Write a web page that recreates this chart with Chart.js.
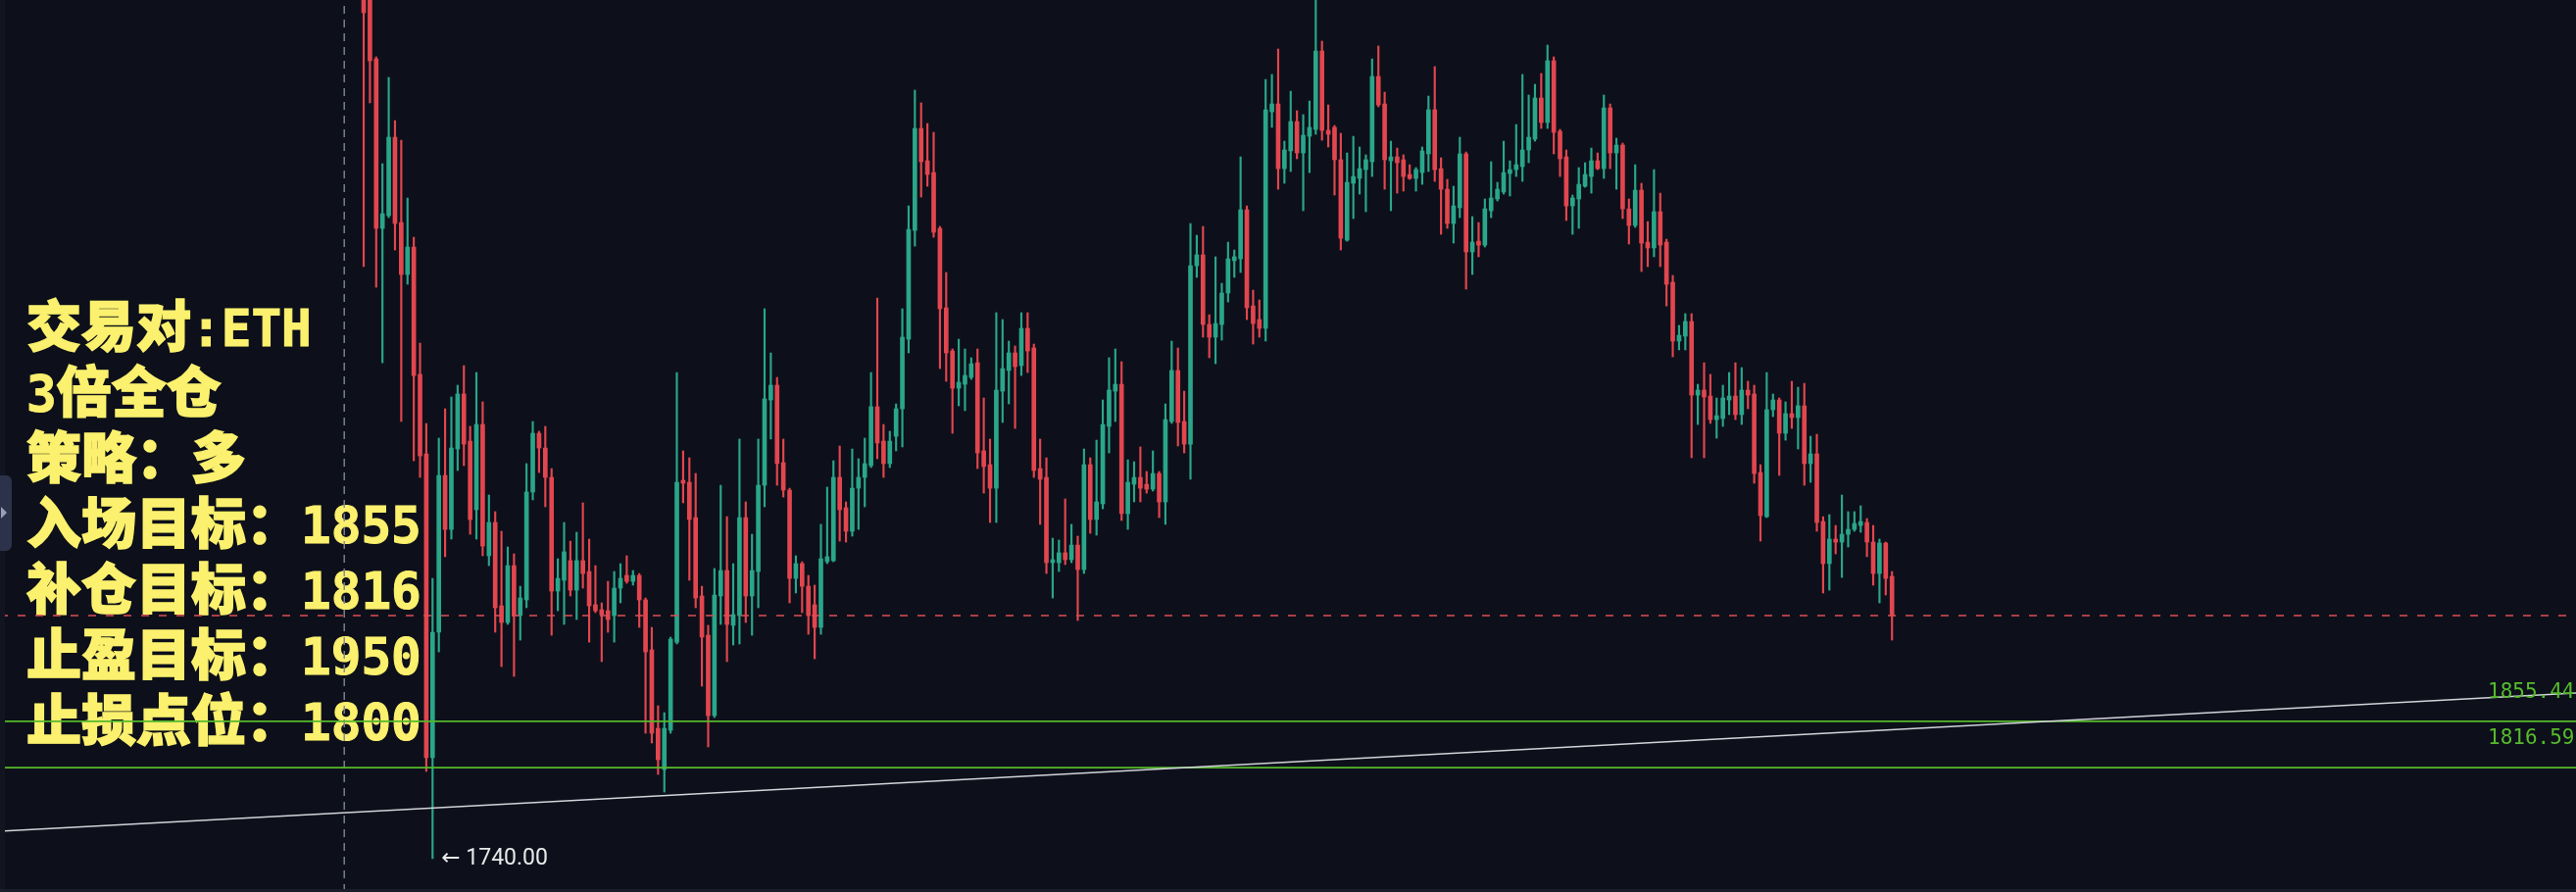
<!DOCTYPE html>
<html>
<head>
<meta charset="utf-8">
<script src="https://cdn.jsdelivr.net/npm/chart.js@4.4.1/dist/chart.umd.min.js"></script>
<style>
html, body { margin: 0; padding: 0; background: #0d101a; overflow: hidden; }
#wrap { position: relative; width: 2628px; height: 910px; }
#notes { position: absolute; left: 27px; top: 295px; color: #fcf16e; font-family: "Noto Sans CJK SC"; font-weight: 900; font-size: 56px; z-index: 0; -webkit-text-stroke: 1.4px #fcf16e; }
#notes div { height: 67px; line-height: 67px; white-space: nowrap; }
#notes .m { font-family: "DejaVu Sans Mono"; font-weight: bold; font-size: 51px; -webkit-text-stroke: 1px #fcf16e; }
canvas { position: absolute; left: 0; top: 0; z-index: 1; }
#edge { position: absolute; left: 0; top: 0; width: 5px; height: 910px; background: #121520; z-index: 2; }
#tab { position: absolute; left: 0; top: 485px; width: 12px; height: 77px; background: #2c3249; border-radius: 0 6px 6px 0; z-index: 3; }
#tab i { position: absolute; left: 1px; top: 32px; width: 0; height: 0; border-top: 6px solid transparent; border-bottom: 6px solid transparent; border-left: 6px solid #9aa0b5; }
#bottom { position: absolute; left: 0; bottom: 0; width: 2628px; height: 3px; background: #1a1e2a; z-index: 2; }
</style>
</head>
<body>
<div id="wrap">
  <div id="notes">
    <div>交易对<span class="m">:ETH</span></div>
    <div><span class="m">3</span>倍全仓</div>
    <div>策略：多</div>
    <div>入场目标：<span class="m">1855</span></div>
    <div>补仓目标：<span class="m">1816</span></div>
    <div>止盈目标：<span class="m">1950</span></div>
    <div>止损点位：<span class="m">1800</span></div>
  </div>
  <canvas id="chart" width="2628" height="910"></canvas>
  <div id="edge"></div>
  <div id="tab"><i></i></div>
  <div id="bottom"></div>
</div>
<script>
// ETH candles (oldest first)
var opens = [
  2470.2, 2462.0, 2412.5, 2270.0, 2280.7, 2346.6, 2274.9, 2231.2, 2254.3, 2147.2,
  2080.4, 1824.9, 1930.4, 2062.3, 2016.9, 2084.5, 2130.7, 2091.1, 2033.4, 2105.1,
  1994.7, 2022.7, 1952.6, 1938.6, 1986.4, 1944.4, 1957.6, 2048.3, 2097.7, 2085.3,
  2060.6, 1965.0, 1974.1, 1990.6, 1965.8, 1990.6, 1981.5, 1953.5, 1949.3, 1948.5,
  1944.4, 1967.5, 1978.2, 1973.2, 1978.2, 1957.6, 1915.6, 1849.6, 1815.0, 1848.0,
  1922.1, 2058.1, 2056.5, 2026.8, 1960.9, 1927.9, 1860.3, 1960.9, 1982.3, 1936.2,
  1944.4, 2026.8, 1960.9, 1981.5, 2054.0, 2125.7, 2138.1, 2073.0, 2049.9, 1975.7,
  1988.1, 1969.1, 1953.5, 1934.5, 1989.7, 1990.6, 2060.6, 2035.1, 2015.3, 2051.5,
  2060.6, 2070.5, 2120.0, 2091.1, 2072.2, 2095.2, 2118.3, 2176.8, 2268.3, 2354.0,
  2326.8, 2316.9, 2270.0, 2203.2, 2166.9, 2135.6, 2138.9, 2144.7, 2157.0, 2082.9,
  2071.3, 2051.5, 2133.1, 2150.5, 2165.3, 2154.6, 2185.9, 2169.4, 2068.0, 2060.6,
  1988.9, 1988.9, 1997.2, 1991.4, 2003.7, 1983.1, 2071.3, 2025.2, 2038.4, 2103.5,
  2133.1, 2138.9, 2030.1, 2054.8, 2060.6, 2054.8, 2050.7, 2063.9, 2040.0, 2107.6,
  2150.5, 2107.6, 2088.6, 2238.6, 2247.7, 2189.2, 2178.5, 2189.2, 2215.6, 2242.8,
  2244.4, 2285.6, 2204.8, 2193.3, 2185.9, 2368.0, 2374.6, 2320.2, 2335.1, 2359.8,
  2333.4, 2347.4, 2353.2, 2419.1, 2352.4, 2354.9, 2327.7, 2260.1, 2307.9, 2312.0,
  2319.4, 2326.0, 2397.7, 2374.6, 2326.8, 2330.1, 2327.7, 2315.3, 2312.0, 2316.9,
  2332.6, 2369.7, 2320.2, 2302.9, 2274.1, 2287.3, 2332.6, 2250.2, 2259.2, 2255.9,
  2284.8, 2294.7, 2300.5, 2316.1, 2319.4, 2321.9, 2335.9, 2345.0, 2379.6, 2359.0,
  2410.9, 2351.6, 2330.1, 2288.9, 2294.7, 2305.4, 2313.6, 2326.8, 2320.2, 2371.3,
  2333.4, 2340.0, 2286.4, 2272.4, 2302.1, 2258.4, 2253.5, 2284.0, 2258.4, 2224.6,
  2175.2, 2179.3, 2191.7, 2129.8, 2134.0, 2129.0, 2109.2, 2110.1, 2125.7, 2129.0,
  2113.4, 2134.0, 2130.7, 2064.7, 2027.6, 2117.5, 2125.7, 2097.7, 2114.2, 2110.9,
  2120.8, 2072.2, 2080.4, 2023.5, 1988.1, 2008.7, 2006.2, 2012.8, 2016.9, 2020.2,
  2022.7, 2006.2, 1979.8, 2005.4, 1977.4
];
var highs = [
  2482.6, 2468.6, 2414.2, 2324.4, 2396.9, 2360.6, 2344.1, 2295.5, 2262.5, 2173.5,
  2105.9, 1975.7, 2093.6, 2118.3, 2128.2, 2138.1, 2154.6, 2103.5, 2148.8, 2124.1,
  2045.8, 2031.8, 2015.3, 2002.1, 1996.3, 1969.1, 2072.2, 2107.6, 2099.4, 2103.5,
  2068.0, 1992.2, 2022.7, 2007.0, 2014.5, 2039.2, 2008.7, 1986.4, 1955.1, 1973.2,
  1981.5, 1988.1, 1994.7, 1982.3, 1979.8, 1959.2, 1934.5, 1868.6, 1862.8, 1926.3,
  2148.8, 2082.9, 2077.1, 2063.9, 1969.1, 1936.2, 1984.0, 2054.0, 2027.6, 1988.1,
  2092.8, 2040.0, 2012.8, 2092.8, 2202.4, 2165.3, 2144.7, 2092.8, 2051.5, 1994.7,
  1989.7, 1978.2, 1970.0, 2021.1, 2052.4, 2074.6, 2087.0, 2040.0, 2084.5, 2076.3,
  2093.6, 2148.8, 2211.4, 2105.1, 2099.4, 2122.4, 2202.4, 2288.9, 2386.2, 2375.5,
  2358.2, 2350.7, 2271.6, 2232.9, 2168.6, 2176.8, 2168.6, 2161.2, 2168.6, 2127.4,
  2092.8, 2199.1, 2193.3, 2175.2, 2171.1, 2199.1, 2199.1, 2172.7, 2092.8, 2077.1,
  2009.5, 2007.9, 2042.5, 2021.1, 2011.2, 2084.5, 2077.1, 2091.9, 2125.7, 2161.2,
  2168.6, 2157.9, 2075.4, 2073.8, 2086.2, 2065.6, 2082.9, 2065.6, 2122.4, 2175.2,
  2169.4, 2133.1, 2274.1, 2264.2, 2271.6, 2197.4, 2246.1, 2223.8, 2258.4, 2251.8,
  2330.1, 2288.9, 2218.0, 2209.8, 2395.2, 2399.4, 2420.8, 2343.3, 2385.3, 2368.9,
  2365.6, 2377.1, 2466.1, 2427.4, 2373.8, 2356.5, 2349.9, 2333.4, 2347.4, 2338.4,
  2331.8, 2412.5, 2423.3, 2384.5, 2343.3, 2337.5, 2331.8, 2323.5, 2321.1, 2338.4,
  2381.2, 2406.0, 2329.3, 2311.2, 2305.4, 2346.6, 2334.2, 2279.9, 2274.9, 2294.7,
  2326.0, 2308.7, 2343.3, 2326.8, 2357.3, 2399.4, 2382.1, 2391.1, 2400.2, 2424.1,
  2414.2, 2353.2, 2335.9, 2298.0, 2321.1, 2325.2, 2337.5, 2333.4, 2382.1, 2374.6,
  2345.8, 2341.7, 2294.7, 2323.5, 2307.9, 2275.7, 2319.4, 2299.6, 2260.9, 2230.4,
  2188.4, 2198.3, 2198.3, 2138.9, 2157.0, 2147.2, 2127.4, 2138.1, 2148.8, 2157.0,
  2152.9, 2141.4, 2138.1, 2071.3, 2148.8, 2130.7, 2127.4, 2124.1, 2141.4, 2136.4,
  2139.7, 2095.2, 2096.9, 2027.6, 2029.3, 2020.2, 2045.8, 2031.8, 2031.8, 2036.7,
  2026.0, 2020.2, 2008.7, 2006.2, 1981.5
];
var lows = [
  2237.8, 2375.5, 2220.5, 2157.0, 2279.0, 2251.8, 2107.6, 2223.0, 2074.6, 2060.6,
  1813.4, 1740.0, 1913.9, 1993.9, 2008.7, 2066.4, 2070.5, 2012.8, 2008.7, 1994.7,
  1986.4, 1930.4, 1901.5, 1937.0, 1893.3, 1923.8, 1951.0, 2041.7, 2064.7, 2035.9,
  1927.9, 1948.5, 1937.0, 1960.9, 1941.1, 1967.5, 1922.1, 1946.9, 1905.7, 1930.4,
  1922.1, 1955.1, 1971.6, 1970.0, 1934.5, 1845.5, 1837.3, 1810.9, 1796.0, 1845.5,
  1920.5, 2039.2, 1974.1, 1951.0, 1885.1, 1834.0, 1858.7, 1937.0, 1905.7, 1919.7,
  1920.5, 1938.6, 1927.9, 1951.0, 2035.9, 2092.8, 2054.0, 2044.1, 1955.1, 1963.4,
  1946.9, 1928.7, 1908.1, 1928.7, 1988.1, 1989.7, 2007.0, 2006.2, 2011.2, 2016.9,
  2035.9, 2068.9, 2076.3, 2060.6, 2068.9, 2082.9, 2086.2, 2165.3, 2255.1, 2296.3,
  2305.4, 2262.5, 2152.1, 2141.4, 2097.7, 2120.8, 2116.7, 2143.0, 2068.0, 2047.4,
  2022.7, 2022.7, 2106.8, 2122.4, 2101.8, 2146.3, 2148.8, 2060.6, 2021.1, 1979.8,
  1959.2, 1981.5, 1987.3, 1988.9, 1940.3, 1979.8, 2013.6, 2012.0, 2034.2, 2081.2,
  2107.6, 2024.4, 2016.9, 2040.0, 2040.0, 2047.4, 2049.1, 2026.8, 2021.1, 2106.0,
  2087.0, 2081.2, 2059.0, 2228.8, 2178.5, 2161.2, 2156.2, 2176.0, 2208.1, 2228.8,
  2232.9, 2193.3, 2172.7, 2178.5, 2175.2, 2354.9, 2302.9, 2307.9, 2317.8, 2328.5,
  2284.8, 2316.9, 2349.1, 2344.1, 2338.4, 2298.0, 2251.8, 2259.2, 2278.2, 2298.8,
  2284.0, 2313.6, 2372.2, 2302.9, 2284.8, 2299.6, 2301.3, 2311.2, 2301.3, 2307.0,
  2317.8, 2309.5, 2265.0, 2270.0, 2257.6, 2279.0, 2218.9, 2231.2, 2246.1, 2254.3,
  2279.0, 2293.0, 2298.8, 2297.2, 2313.6, 2309.5, 2325.2, 2343.3, 2354.0, 2354.0,
  2332.6, 2313.6, 2276.6, 2265.0, 2270.0, 2304.6, 2299.6, 2319.4, 2312.0, 2320.2,
  2302.9, 2278.2, 2256.8, 2270.8, 2233.7, 2237.8, 2246.1, 2237.8, 2204.8, 2162.0,
  2167.8, 2167.8, 2077.1, 2105.1, 2077.1, 2106.0, 2093.6, 2103.5, 2113.4, 2109.2,
  2105.1, 2118.3, 2055.7, 2007.0, 2026.8, 2111.7, 2062.3, 2091.9, 2101.8, 2084.5,
  2054.0, 2056.5, 2015.3, 1963.4, 1965.8, 1996.3, 1976.5, 2002.1, 2015.3, 2014.5,
  1993.9, 1970.0, 1955.1, 1961.7, 1923.8
];
var closes = [
  2451.3, 2410.9, 2270.0, 2282.3, 2346.6, 2274.1, 2231.2, 2254.3, 2146.3, 2078.7,
  1824.9, 1930.4, 2062.3, 2016.9, 2085.3, 2130.7, 2088.6, 2025.2, 2105.1, 2002.9,
  2022.7, 1951.0, 1938.6, 1986.4, 1944.4, 1959.2, 2048.3, 2097.7, 2085.3, 2060.6,
  1965.0, 1975.7, 1998.0, 1965.8, 1990.6, 1979.8, 1952.6, 1948.5, 1945.2, 1941.1,
  1967.5, 1975.7, 1973.2, 1978.2, 1957.6, 1913.9, 1845.5, 1823.2, 1849.6, 1924.6,
  2056.5, 2055.7, 2025.2, 1959.2, 1926.3, 1860.3, 1961.7, 1982.3, 1937.0, 1945.2,
  2026.8, 1960.9, 1982.3, 2054.0, 2126.6, 2138.1, 2072.2, 2049.9, 1975.7, 1988.1,
  1969.1, 1944.4, 1934.5, 1992.2, 1993.9, 2060.6, 2033.4, 2015.3, 2051.5, 2060.6,
  2072.2, 2120.0, 2089.5, 2072.2, 2091.1, 2118.3, 2178.5, 2269.1, 2354.0, 2326.0,
  2315.3, 2266.7, 2202.4, 2165.3, 2135.6, 2140.6, 2146.3, 2156.2, 2081.2, 2069.7,
  2051.5, 2134.0, 2152.1, 2165.3, 2153.7, 2185.9, 2166.9, 2066.4, 2059.0, 1988.9,
  1991.4, 1997.2, 1991.4, 2003.7, 1983.1, 2071.3, 2025.2, 2040.0, 2105.1, 2134.0,
  2138.9, 2030.1, 2056.5, 2060.6, 2051.5, 2050.7, 2063.9, 2040.0, 2109.2, 2150.5,
  2106.8, 2088.6, 2238.6, 2247.7, 2189.2, 2178.5, 2190.0, 2215.6, 2244.4, 2246.1,
  2285.6, 2203.2, 2190.0, 2185.9, 2369.7, 2374.6, 2320.2, 2335.9, 2359.8, 2333.4,
  2348.3, 2354.9, 2419.1, 2352.4, 2349.1, 2327.7, 2261.7, 2308.7, 2313.6, 2320.2,
  2327.7, 2397.7, 2373.8, 2327.7, 2330.1, 2325.2, 2313.6, 2312.0, 2319.4, 2335.1,
  2369.7, 2319.4, 2302.9, 2274.1, 2288.9, 2332.6, 2250.2, 2258.4, 2255.9, 2286.4,
  2295.5, 2302.9, 2316.9, 2319.4, 2323.5, 2335.9, 2346.6, 2379.6, 2359.0, 2410.9,
  2350.7, 2328.5, 2288.9, 2295.5, 2307.0, 2315.3, 2326.8, 2320.2, 2371.3, 2333.4,
  2340.0, 2286.4, 2272.4, 2302.1, 2257.6, 2253.5, 2284.0, 2255.9, 2223.0, 2175.2,
  2180.1, 2191.7, 2129.8, 2134.0, 2128.2, 2109.2, 2112.5, 2127.4, 2129.0, 2113.4,
  2134.0, 2129.8, 2063.9, 2028.5, 2117.5, 2125.7, 2097.7, 2114.2, 2110.9, 2120.8,
  2072.2, 2080.4, 2022.7, 1988.1, 2008.7, 2006.2, 2012.8, 2016.9, 2021.9, 2023.5,
  2006.2, 1979.8, 2005.4, 1975.7, 1944.4
];

// horizontal levels drawn on the right, with their labels
var levelValues = [1855.44, 1816.59];
var levelLabels = ['1855.44', '1816.59'];
// lowest wick marker
var lowIndex = 11;
var lowValue = 1740;
var lowLabel = '\u2190 1740.00';
// rising trend line, value at the left and right edges
var trendValues = [1763.1, 1879.3];
// dashed time marker, in candle units
var markerIndex = -3.1;

var xMin = -58.06, xMax = 353.2;
var yMin = 1712, yMax = 2462;

var UP = '#2aa68a';
var DOWN = '#e2464f';

var colors = [];
var wickData = [];
var bodyData = [];
for (var i = 0; i < opens.length; i++) {
    colors.push(closes[i] >= opens[i] ? UP : DOWN);
    wickData.push({ x: i, y: [lows[i], highs[i]] });
    bodyData.push({ x: i, y: [opens[i], closes[i]] });
}
var lastClose = closes[closes.length - 1];

function hLine(value, color, width, dash) {
    return {
        type: 'line',
        data: [{ x: xMin, y: value }, { x: xMax, y: value }],
        borderColor: color,
        borderWidth: width,
        borderDash: dash || [],
        pointRadius: 0,
        fill: false,
        order: 0
    };
}

var datasets = [
    {
        type: 'line',
        data: [{ x: xMin, y: trendValues[0] }, { x: xMax, y: trendValues[1] }],
        borderColor: '#d2d4da',
        borderWidth: 1.6,
        pointRadius: 0,
        fill: false,
        order: 0
    },
    hLine(levelValues[0], '#55b92b', 1.8),
    hLine(levelValues[1], '#55b92b', 1.8),
    hLine(lastClose, '#dd4d57', 1.3, [8, 10]),
    {
        type: 'line',
        data: [{ x: markerIndex, y: yMin }, { x: markerIndex, y: yMax }],
        borderColor: '#80859a',
        borderWidth: 1.4,
        borderDash: [8, 6],
        pointRadius: 0,
        fill: false,
        order: 0
    },
    {
        type: 'bar',
        data: bodyData,
        backgroundColor: colors,
        barThickness: 4,
        minBarLength: 1,
        grouped: false,
        order: 1
    },
    {
        type: 'bar',
        data: wickData,
        backgroundColor: colors,
        barThickness: 1.5,
        grouped: false,
        order: 2
    }
];

var labelPlugin = {
    id: 'priceLabels',
    afterDatasetsDraw: function (chart) {
        var ctx = chart.ctx;
        var xs = chart.scales.x;
        var ys = chart.scales.y;
        ctx.save();
        ctx.font = '21px "DejaVu Sans Mono"';
        ctx.fillStyle = '#56bb2c';
        ctx.textBaseline = 'alphabetic';
        for (var k = 0; k < levelValues.length; k++) {
            ctx.fillText(levelLabels[k], chart.chartArea.right - 90, ys.getPixelForValue(levelValues[k]) - 24);
        }
        ctx.font = '23px Roboto, "DejaVu Sans"';
        ctx.fillStyle = '#e8e8ea';
        ctx.textBaseline = 'middle';
        ctx.fillText(lowLabel, xs.getPixelForValue(lowIndex) + 9, ys.getPixelForValue(lowValue));
        ctx.restore();
    }
};

var ctx = document.getElementById('chart').getContext('2d');
window.ethChart = new Chart(ctx, {
    type: 'bar',
    data: { datasets: datasets },
    options: {
        responsive: false,
        animation: false,
        devicePixelRatio: 1,
        events: [],
        layout: { padding: 0 },
        plugins: {
            legend: { display: false },
            tooltip: { enabled: false }
        },
        scales: {
            x: { type: 'linear', min: xMin, max: xMax, offset: false, display: false },
            y: { type: 'linear', min: yMin, max: yMax, display: false }
        }
    },
    plugins: [labelPlugin]
});
</script>
</body>
</html>
